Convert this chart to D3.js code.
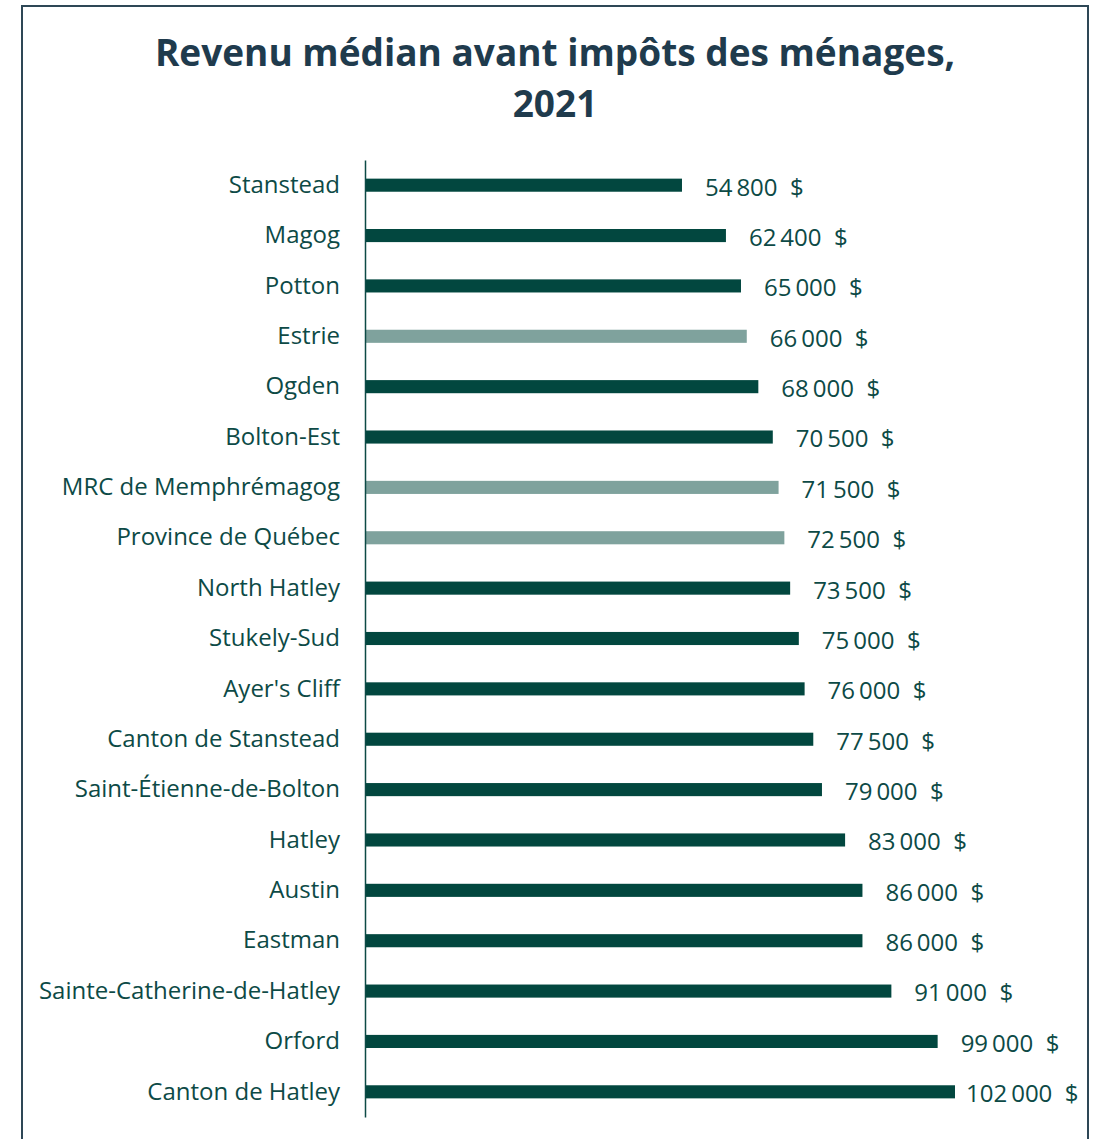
<!DOCTYPE html>
<html><head><meta charset="utf-8">
<script src="https://cdn.jsdelivr.net/npm/d3@7"></script>
<style>
html,body{margin:0;padding:0;background:#fff;}
svg{display:block;font-family:"Open Sans",sans-serif;}
</style></head>
<body>
<script>
const categories = ["Stanstead","Magog","Potton","Estrie","Ogden","Bolton-Est","MRC de Memphrémagog","Province de Québec","North Hatley","Stukely-Sud","Ayer's Cliff","Canton de Stanstead","Saint-Étienne-de-Bolton","Hatley","Austin","Eastman","Sainte-Catherine-de-Hatley","Orford","Canton de Hatley"];
const values = [54800,62400,65000,66000,68000,70500,71500,72500,73500,75000,76000,77500,79000,83000,86000,86000,91000,99000,102000];
const highlighted = ["Estrie","MRC de Memphrémagog","Province de Québec"];
const titleLines = ["Revenu médian avant impôts des ménages,","2021"];

const W = 1102, H = 1139;
const svg = d3.select("body").append("svg").attr("width", W).attr("height", H);

svg.append("rect").attr("x",22).attr("y",6).attr("width",1066).attr("height",1160)
  .attr("fill","none").attr("stroke","#2e4756").attr("stroke-width",2);

svg.append("text").attr("x",555).attr("text-anchor","middle")
  .attr("font-weight",700).attr("font-size",37).attr("fill","#1f3b4d")
  .selectAll("tspan").data(titleLines).join("tspan")
  .attr("x",555).attr("y",(d,i)=>66+i*51).text(d=>d);

const data = categories.map((c,i)=>({c, v: values[i]}));
const x = d3.scaleLinear().domain([0,102000]).range([365,955]);
const y = d3.scaleBand().domain(categories).range([160,1117]).paddingInner(0.74).paddingOuter(0.37);

const fmt = d3.formatLocale({decimal:",", thousands:"\u2009", grouping:[3], currency:["",""]}).format(",d");

svg.append("g").selectAll("rect").data(data).join("rect")
  .attr("x", x(0)).attr("y", d=>y(d.c)).attr("height", y.bandwidth())
  .attr("width", d=>x(d.v)-x(0))
  .attr("fill", d=>highlighted.includes(d.c) ? "#7fa29d" : "#02473f");

const limit = 1082;
svg.append("g").selectAll("text").data(data).join("text")
  .attr("x", d=>x(d.v)+23).attr("y", d=>y(d.c)+y.bandwidth()/2+2)
  .attr("dy","0.35em").attr("font-size",24).attr("fill","#0d4a46")
  .style("white-space","pre")
  .text(d=>fmt(d.v)+"  $")
  .each(function(d){
    if (x(d.v)+23+this.getComputedTextLength() > limit) {
      d3.select(this).attr("x", x(d.v)+11);
    }
  });

const axis = svg.append("g").attr("transform",`translate(${x(0)},0)`)
  .call(d3.axisLeft(y).tickSize(0).tickPadding(25));
axis.select(".domain").attr("stroke","#0d4a46").attr("stroke-width",1.5);
axis.selectAll("text").attr("font-size",24).attr("fill","#0d4a46")
  .attr("font-family","'Open Sans',sans-serif").attr("dy","0.32em");
</script>
</body></html>
